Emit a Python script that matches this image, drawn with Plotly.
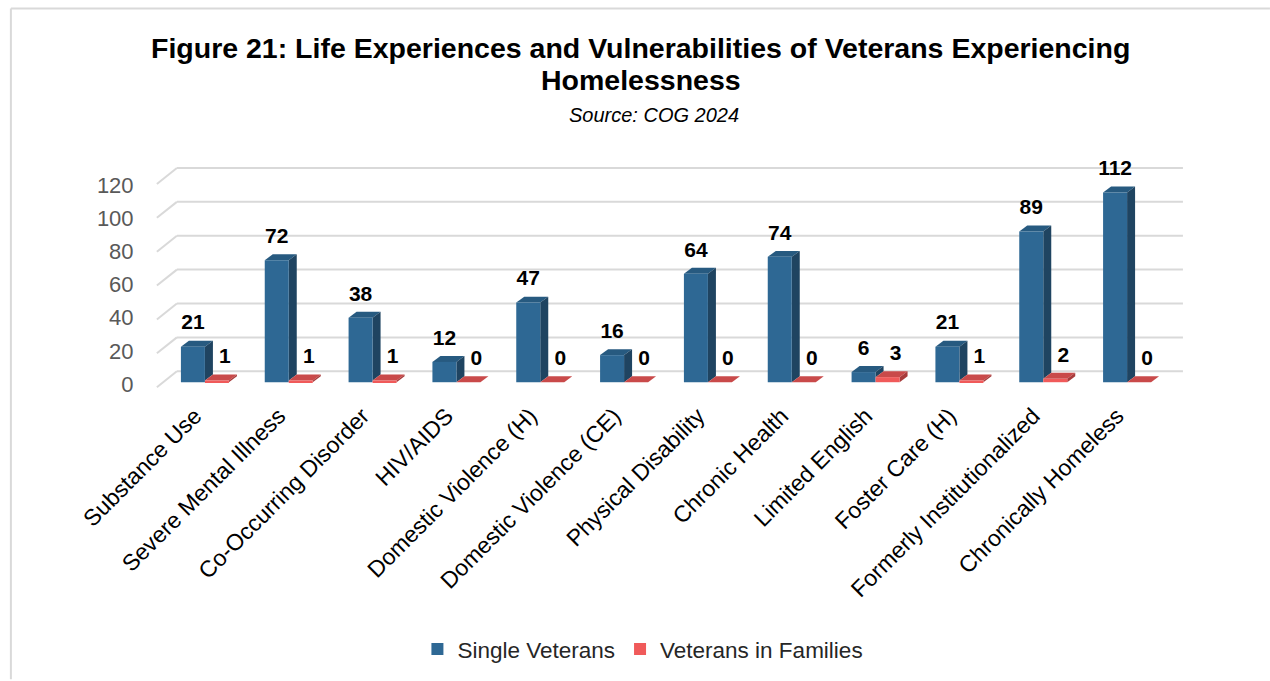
import plotly.graph_objects as go

# ---------------- data ----------------
categories = ["Substance Use", "Severe Mental Illness", "Co-Occurring Disorder", "HIV/AIDS",
              "Domestic Violence (H)", "Domestic Violence (CE)", "Physical Disability",
              "Chronic Health", "Limited English", "Foster Care (H)",
              "Formerly Institutionalized", "Chronically Homeless"]
single_veterans = [21, 72, 38, 12, 47, 16, 64, 74, 6, 21, 89, 112]
veterans_in_families = [1, 1, 1, 0, 0, 0, 0, 0, 3, 1, 2, 0]
y_tick_values = [0, 20, 40, 60, 80, 100, 120]
series_names = ["Single Veterans", "Veterans in Families"]

# ---------------- geometry / style ----------------
W, H = 1270, 681
N = len(categories)
PLOT_L = 163.1
CAT_PX = 83.83
PLOT_R = PLOT_L + N * CAT_PX
Y0_PX = 383.0
UNIT_PX = 1.70
Y_MIN, Y_MAX = -4, 130
PLOT_B = Y0_PX - Y_MIN * UNIT_PX
PLOT_T = Y0_PX - Y_MAX * UNIT_PX

BW = 24 / CAT_PX          # bar width (category units)
DX = 8 / CAT_PX           # 3D depth horizontal
DY = 6 / UNIT_PX          # 3D depth vertical
BACK = (Y0_PX - 372) / UNIT_PX
FRONT = (388 - Y0_PX) / UNIT_PX
LBL_OFF = 12 / UNIT_PX


def pxx(px):
    return (px - PLOT_L) / (PLOT_R - PLOT_L)


def pxy(py):
    return (PLOT_B - py) / (PLOT_B - PLOT_T)


BLUE, BLUE_TOP, BLUE_SIDE = "#2E6894", "#275A80", "#1F4461"
RED, RED_TOP, RED_SIDE = "#F05A5A", "#C94A4A", "#A83B3B"
GRID = "#D9D9D9"
FONT = "Liberation Sans, Arial, sans-serif"
NARROW = "Liberation Sans Narrow, Arial Narrow, Liberation Sans, Arial, sans-serif"

idx = list(range(N))

fig = go.Figure()
fig.add_trace(go.Bar(x=idx, y=single_veterans, name=series_names[0], offset=-BW, width=BW,
                     marker=dict(color=BLUE, line=dict(width=0)), hoverinfo="y"))
fig.add_trace(go.Bar(x=idx, y=veterans_in_families, name=series_names[1], offset=0, width=BW,
                     marker=dict(color=RED, line=dict(width=0)), hoverinfo="y"))

fig.add_trace(go.Scatter(x=[i - BW / 2 for i in idx], y=[v + LBL_OFF for v in single_veterans],
                         text=[str(v) for v in single_veterans], mode="text",
                         textposition="top center", cliponaxis=False, showlegend=False,
                         hoverinfo="skip",
                         textfont=dict(family=FONT, size=21, color="#000000", weight="bold")))
fig.add_trace(go.Scatter(x=[i + BW / 2 + DX for i in idx],
                         y=[v + LBL_OFF for v in veterans_in_families],
                         text=[str(v) for v in veterans_in_families], mode="text",
                         textposition="top center", cliponaxis=False, showlegend=False,
                         hoverinfo="skip",
                         textfont=dict(family=FONT, size=21, color="#000000", weight="bold")))
# dummy trace for label axis
fig.add_trace(go.Scatter(x=[None], y=[None], yaxis="y2", showlegend=False, hoverinfo="skip"))

shapes = []
# back-wall gridlines and slanted stubs
for v in y_tick_values:
    shapes.append(dict(type="line", xref="paper", yref="y", x0=pxx(177), x1=pxx(1183),
                       y0=v + BACK, y1=v + BACK, line=dict(color=GRID, width=2), layer="below"))
    shapes.append(dict(type="line", xref="paper", yref="y", x0=pxx(157), x1=pxx(177),
                       y0=v - FRONT, y1=v + BACK, line=dict(color=GRID, width=2), layer="below"))


def quad(pts, color):
    p = "M " + " L ".join(f"{x:.5f},{y:.5f}" for x, y in pts) + " Z"
    return dict(type="path", xref="x", yref="y", path=p, fillcolor=color,
                line=dict(width=0), layer="below")


for i in idx:
    v, vr = single_veterans[i], veterans_in_families[i]
    x0, x1 = i - BW, i
    shapes.append(quad([(x0, v), (x1, v), (x1 + DX, v + DY), (x0 + DX, v + DY)], BLUE_TOP))
    shapes.append(quad([(x1, vr), (x1, v), (x1 + DX, v + DY), (x1 + DX, vr + DY)], BLUE_SIDE))
    x0, x1 = i, i + BW
    shapes.append(quad([(x0, vr), (x1, vr), (x1 + DX, vr + DY), (x0 + DX, vr + DY)], RED_TOP))
    if vr > 0:
        shapes.append(quad([(x1, 0), (x1, vr), (x1 + DX, vr + DY), (x1 + DX, DY)], RED_SIDE))

# outer chart border
shapes.append(dict(type="line", xref="paper", yref="paper", x0=pxx(11), x1=pxx(1270),
                   y0=pxy(8), y1=pxy(8), line=dict(color=GRID, width=2)))
shapes.append(dict(type="line", xref="paper", yref="paper", x0=pxx(11), x1=pxx(11),
                   y0=pxy(8), y1=pxy(681), line=dict(color=GRID, width=2)))

annotations = [
    dict(text="<b>Figure 21: Life Experiences and Vulnerabilities of Veterans Experiencing</b>",
         xref="paper", yref="paper", x=pxx(641), y=pxy(48), xanchor="center", yanchor="middle",
         showarrow=False, font=dict(family=NARROW, size=28.5, color="#000000")),
    dict(text="<b>Homelessness</b>",
         xref="paper", yref="paper", x=pxx(641), y=pxy(80), xanchor="center", yanchor="middle",
         showarrow=False, font=dict(family=NARROW, size=28.5, color="#000000")),
    dict(text="<i>Source: COG 2024</i>",
         xref="paper", yref="paper", x=pxx(654), y=pxy(115), xanchor="center", yanchor="middle",
         showarrow=False, font=dict(family=NARROW, size=20, color="#000000")),
]

y2_lo = (385 - PLOT_B) / ((385 - 185) / 120)
y2_hi = (385 - PLOT_T) / ((385 - 185) / 120)

fig.update_layout(
    width=W, height=H,
    margin=dict(l=PLOT_L, r=W - PLOT_R, t=PLOT_T, b=H - PLOT_B, pad=0),
    paper_bgcolor="white", plot_bgcolor="white",
    barmode="overlay",
    font=dict(family=FONT, color="#000000"),
    shapes=shapes, annotations=annotations,
    xaxis=dict(range=[-0.5, N - 0.5], tickvals=idx, ticktext=categories, tickangle=-45,
               tickfont=dict(family=FONT, size=23, color="#000000"), showgrid=False,
               zeroline=False, showline=False, ticks="", ticklabelshift=-10,
               ticklabelstandoff=8),
    yaxis=dict(range=[Y_MIN, Y_MAX], showgrid=False, zeroline=False, showline=False,
               showticklabels=False, ticks=""),
    yaxis2=dict(overlaying="y", side="left", range=[y2_lo, y2_hi], tickvals=y_tick_values,
                ticks="outside", ticklen=24, tickcolor="rgba(0,0,0,0)", showgrid=False,
                zeroline=False, showline=False,
                tickfont=dict(family=FONT, size=22, color="#595959")),
    legend=dict(orientation="h", x=pxx(643), xanchor="center", y=pxy(649), yanchor="middle",
                font=dict(family=FONT, size=22.5, color="#262626"), traceorder="normal"),
)

fig.write_html("out.html", post_script="document.body.style.margin='0px';",
               config={"displayModeBar": False})
